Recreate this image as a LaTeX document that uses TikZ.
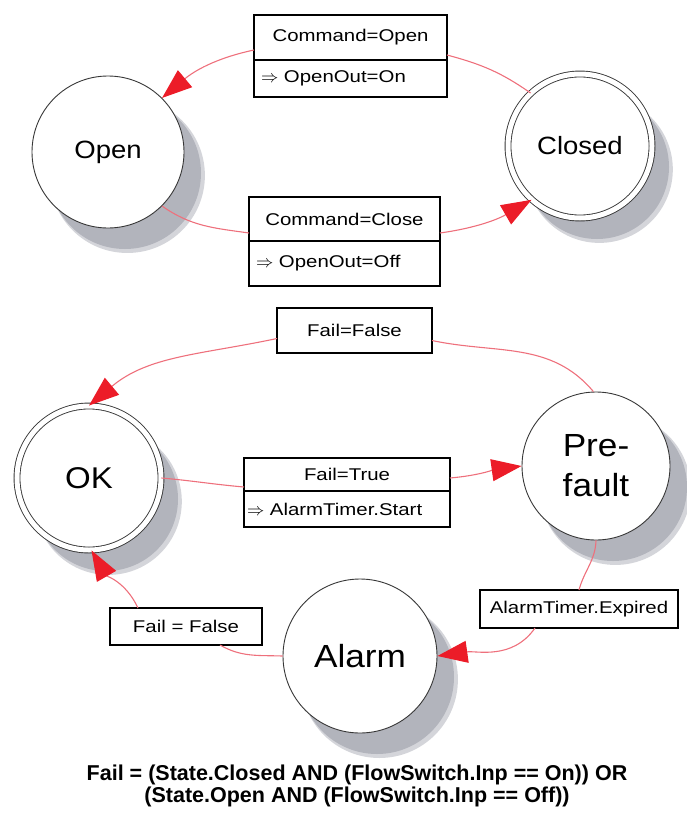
\documentclass[tikz,border=0pt]{standalone}
\usepackage{fontspec}
\setmainfont{Liberation Sans}[FakeStretch=1.1]
\newfontfamily\boxfont{Liberation Sans}[FakeStretch=1.2]
\newfontfamily\notefont{Liberation Sans}
\usetikzlibrary{arrows.meta,positioning,shadows}

\definecolor{linkred}{RGB}{238,112,124}
\definecolor{tipred}{RGB}{236,28,40}
\definecolor{rimgray}{RGB}{55,55,55}
\definecolor{shadowgray}{RGB}{178,180,188}
\definecolor{shadowrim}{RGB}{212,213,218}

\tikzset{
  statenode/.style={circle, draw=rimgray, line width=0.9pt, fill=white,
    minimum size=152pt, inner sep=0pt, align=center,
    general shadow={shadow xshift=19pt, shadow yshift=-23pt, shadow scale=1.02, fill=shadowrim},
    general shadow={shadow xshift=17pt, shadow yshift=-21pt, fill=shadowgray}},
  finalstate/.style={statenode, minimum size=144pt, double, double distance=5pt},
  guardbox/.style={draw, line width=1.2pt, fill=white, inner sep=0pt, outer sep=0pt,
    font=\boxfont\fontsize{17}{20}\selectfont},
  actionbox/.style={guardbox, align=left, inner xsep=7pt},
  link/.style={draw=linkred, line width=1.1pt},
  linkto/.style={link, -{Triangle[length=30pt,width=22pt,color=tipred]}},
}

\begin{document}
\begin{tikzpicture}[x=1pt,y=1pt]
  \useasboundingbox (0,0) rectangle (687,-814);

  % States.
  \node[statenode, font=\fontsize{25}{28}\selectfont] (open) at (108,-152) {Open};
  \node[finalstate, font=\fontsize{25}{28}\selectfont] (closed) at (580,-146) {Closed};
  \node[finalstate, font=\fontsize{30}{34}\selectfont] (ok) at (89,-478) {OK};
  \node[statenode, minimum size=148pt, font=\fontsize{32}{40}\selectfont] (prefault) at (596,-466) {Pre-\\fault};
  \node[statenode, minimum size=154pt, font=\fontsize{32}{36}\selectfont] (alarm) at (360,-656) {Alarm};

  % Transition labels.
  \node[guardbox, minimum width=193pt, minimum height=45pt] (opencmd) at (350.5,-37.5) {Command=Open};
  \node[actionbox, text width=179pt, minimum height=37pt, below=0pt of opencmd] (openact) {$\Rightarrow$ OpenOut=On};
  \node[guardbox, minimum width=191pt, minimum height=44pt] (closecmd) at (344.5,-219) {Command=Close};
  \node[actionbox, text width=177pt, minimum height=45pt, below=0pt of closecmd] (closeact) {$\Rightarrow$ OpenOut=Off};
  \node[guardbox, minimum width=155pt, minimum height=45pt] (failoff) at (354.5,-330.5) {Fail=False};
  \node[guardbox, minimum width=206pt, minimum height=33pt] (failon) at (347,-474.5) {Fail=True};
  \node[actionbox, inner xsep=3pt, text width=200pt, minimum height=36pt, below=0pt of failon] (starttimer) {$\Rightarrow$ AlarmTimer.Start};
  \node[guardbox, minimum width=198pt, minimum height=38pt] (expired) at (579,-609) {AlarmTimer.Expired};
  \node[guardbox, minimum width=152pt, minimum height=37pt] (alarmoff) at (186,-626.5) {Fail = False};

  % Closed -> Open.
  \draw[link] (closed.133) to[out=145,in=-15] ([yshift=5pt]opencmd.south east);
  \draw[linkto] ([yshift=10pt]opencmd.south west) to[out=192,in=40] (open.45);
  % Open -> Closed.
  \draw[link] (open.-45) to[out=-35,in=172] ([yshift=8pt]closecmd.south west);
  \draw[linkto] ([yshift=8pt]closecmd.south east) to[out=8,in=210] (closed.-132);
  % Prefault -> OK.
  \draw[link] (prefault.92) to[out=130,in=-12] ([yshift=-10pt]failoff.east);
  \draw[linkto] ([yshift=-8pt]failoff.west) to[out=192,in=40] (ok.90);
  % OK -> Prefault.
  \draw[link] (ok.east) to[out=-5,in=175] ([yshift=4pt]failon.south west);
  \draw[linkto] ([yshift=13pt]failon.south east) to[out=5,in=188] (prefault.180);
  % Prefault -> Alarm.
  \draw[link] (prefault.-90) to[out=-92,in=75] (expired.north);
  \draw[linkto] ([xshift=-44pt]expired.south) to[out=-125,in=8] (alarm.0);
  % Alarm -> OK.
  \draw[link] (alarm.180) to[out=178,in=-30] ([xshift=34pt]alarmoff.south);
  \draw[linkto] ([xshift=-48pt]alarmoff.north) to[out=115,in=-60] (ok.-88);

  \node[font=\notefont\bfseries\fontsize{21.5}{22}\selectfont, align=center] (note) at (357,-786)
    {Fail = (State.Closed AND (FlowSwitch.Inp == On)) OR\\(State.Open AND (FlowSwitch.Inp == Off))};
\end{tikzpicture}
\end{document}
